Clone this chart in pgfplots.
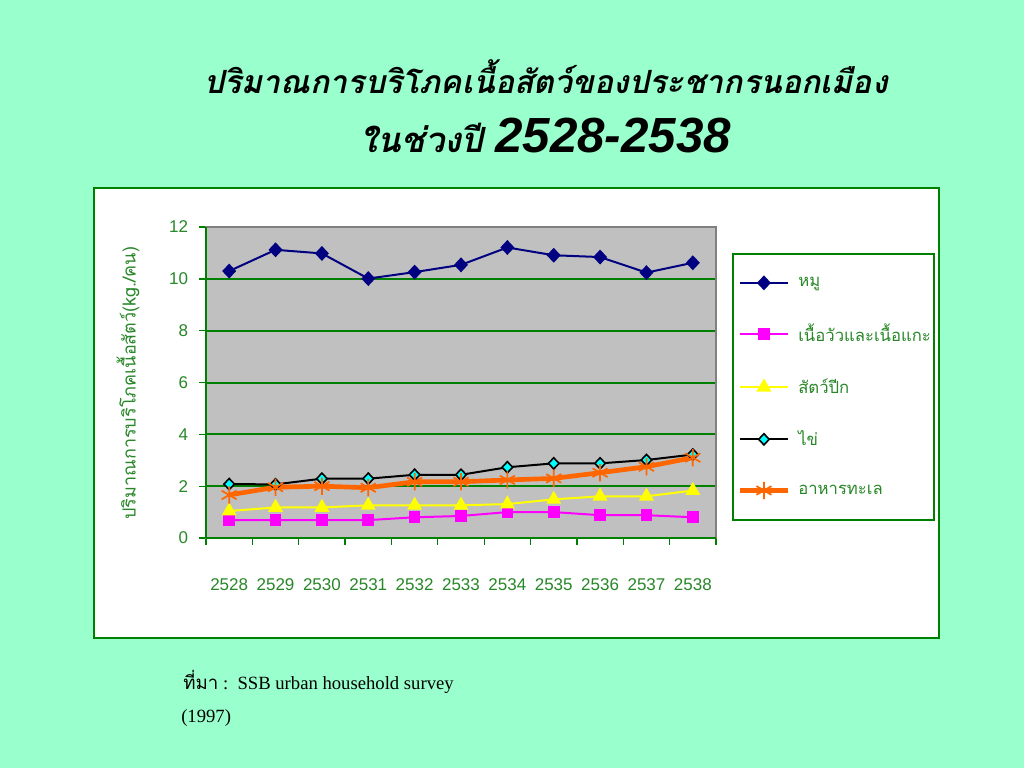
\documentclass[border=0pt]{standalone}
\usepackage{fontspec}
\usepackage{pgfplots}
\pgfplotsset{compat=1.18}
\setmainfont{Liberation Sans}
\newfontfamily\thai[Script=Thai]{Loma}
\newfontfamily\tnr{Liberation Serif}

\definecolor{bgmint}{RGB}{153,255,204}
\definecolor{xlgreen}{RGB}{0,128,0}
\definecolor{txtgreen}{RGB}{40,135,40}
\definecolor{plotgray}{RGB}{192,192,192}
\definecolor{navy}{RGB}{0,0,128}
\definecolor{xlorange}{RGB}{255,102,0}
\definecolor{xlmagenta}{RGB}{255,0,255}
\definecolor{xlyellow}{RGB}{255,255,0}
\definecolor{xlcyan}{RGB}{0,255,255}

\begin{document}
\begin{tikzpicture}[x=0.75pt,y=-0.75pt]
% page and chart frame
\fill[bgmint] (0,0) rectangle (1024,768);
\draw[xlgreen,line width=1.5pt,fill=white] (94,188) rectangle (939,638);
\draw[xlgreen,line width=1.2pt,fill=white] (733,254) rectangle (934,520);

% titles
\node[anchor=base,inner sep=0pt] at (546,93)
  {\thai\bfseries\itshape\fontsize{24}{28}\selectfont ปริมาณการบริโภคเนื้อสัตว์ของประชากรนอกเมือง};
\node[anchor=base,inner sep=0pt] at (546,152)
  {\thai\bfseries\itshape\fontsize{26}{30}\selectfont ในช่วงปี \fontsize{37}{40}\selectfont\rmfamily\bfseries\itshape 2528-2538};

% source
\node[anchor=base west,inner sep=0pt] at (183,689)
  {\fontsize{14}{16}\selectfont{\thai ที่มา}\tnr\ :\ \ SSB urban household survey};
\node[anchor=base west,inner sep=0pt] at (181,722)
  {\fontsize{14}{16}\selectfont\tnr (1997)};

\begin{axis}[
    at={(154.5pt,-403.5pt)},
    anchor=south west,
    scale only axis,
    width=382.5pt,
    height=233.25pt,
    xmin=-0.5, xmax=10.5,
    ymin=0, ymax=12,
    xtick={0,...,10},
    xticklabels={2528,2529,2530,2531,2532,2533,2534,2535,2536,2537,2538},
    minor xtick={-0.5,0.5,...,10.5},
    ytick={0,2,...,12},
    xtick pos=bottom,
    ytick pos=left,
    tick align=outside,
    major tick length=5pt,
    minor tick length=5pt,
    major x tick style={draw=none},
    tick style={xlgreen,line width=1pt},
    ymajorgrids,
    grid style={xlgreen,line width=1.5pt},
    axis background/.style={fill=plotgray},
    axis line style={gray,line width=1pt},
    ticklabel style={font=\fontsize{12.75}{14}\selectfont,text=txtgreen},
    /pgf/number format/assume math mode=true,
    xticklabel style={yshift=-22pt},
    yticklabel style={xshift=-5pt},
    ylabel={\thai ปริมาณการบริโภคเนื้อสัตว์(kg./คน)},
    ylabel style={at={(axis description cs:-0.153,0.498)},anchor=center,
      font=\fontsize{13.5}{15}\selectfont,text=txtgreen},
    legend style={at={(1.034,0.484)},anchor=west,draw=none,fill=none,
      row sep=24.5pt,column sep=5pt,
      font=\thai\fontsize{12.5}{15}\selectfont,text=txtgreen,
      nodes={inner sep=1pt}},
    legend cell align=left,
    legend image code/.code={%
      \draw[mark repeat=2,mark phase=2,#1]
        plot coordinates {(0pt,0pt) (18pt,0pt) (36pt,0pt)};},
    clip=false,
]
\addplot[navy,line width=1.5pt,mark=diamond*,mark size=4.5pt,
  mark options={solid,fill=navy,draw=navy,xscale=1.25}] coordinates {
  (0,10.30) (1,11.12) (2,10.98) (3,10.01) (4,10.26) (5,10.54)
  (6,11.21) (7,10.91) (8,10.84) (9,10.24) (10,10.62)};
\addlegendentry{หมู}
\addplot[xlmagenta,line width=1.5pt,mark=square*,mark size=3.6pt,
  mark options={solid,fill=xlmagenta,draw=xlmagenta}] coordinates {
  (0,0.69) (1,0.69) (2,0.69) (3,0.69) (4,0.80) (5,0.85)
  (6,1.00) (7,1.00) (8,0.88) (9,0.88) (10,0.80)};
\addlegendentry{เนื้อวัวและเนื้อแกะ}
\addplot[xlyellow,line width=1.5pt,mark=triangle*,mark size=5pt,
  mark options={solid,fill=xlyellow,draw=xlyellow}] coordinates {
  (0,1.04) (1,1.18) (2,1.18) (3,1.26) (4,1.26) (5,1.26)
  (6,1.31) (7,1.49) (8,1.61) (9,1.61) (10,1.83)};
\addlegendentry{สัตว์ปีก}
\addplot[black,line width=1.5pt,mark=diamond*,mark size=4.2pt,
  mark options={solid,fill=xlcyan,draw=black,line width=1.2pt,xscale=1.25}] coordinates {
  (0,2.08) (1,2.07) (2,2.29) (3,2.29) (4,2.44) (5,2.44)
  (6,2.73) (7,2.88) (8,2.88) (9,3.01) (10,3.22)};
\addlegendentry{ไข่}
\addplot[xlorange,line width=3.5pt,mark=asterisk,mark size=6.5pt,
  mark options={solid,draw=xlorange,line width=1.3pt}] coordinates {
  (0,1.66) (1,1.96) (2,2.00) (3,1.94) (4,2.17) (5,2.17)
  (6,2.24) (7,2.30) (8,2.52) (9,2.75) (10,3.10)};
\addlegendentry{อาหารทะเล}
% green value and category axis lines
\draw[xlgreen,line width=1.5pt] (rel axis cs:0,0) -- (rel axis cs:1,0);
\draw[xlgreen,line width=1.5pt] (rel axis cs:0,0) -- (rel axis cs:0,1);
\end{axis}
\end{tikzpicture}
\end{document}
